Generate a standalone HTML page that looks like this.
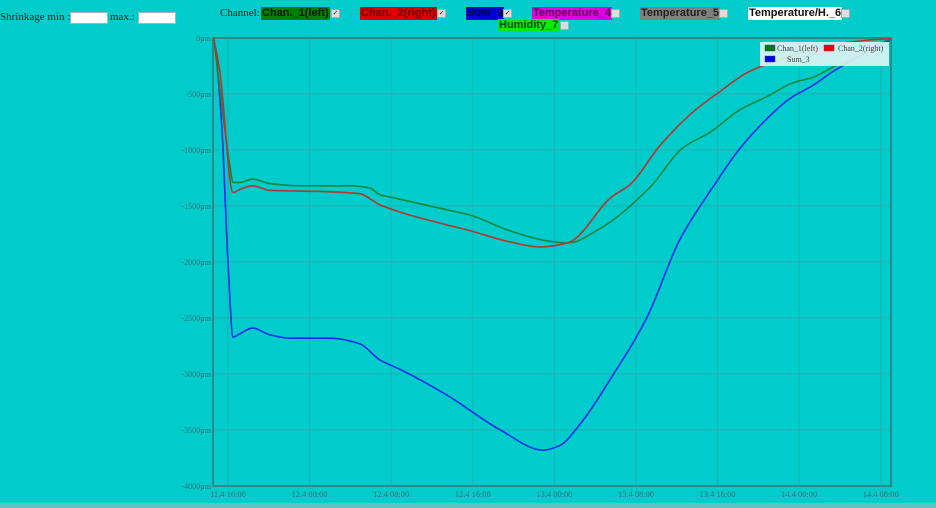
<!DOCTYPE html>
<html><head><meta charset="utf-8"><style>
body{margin:0;width:936px;height:508px;background:#00cccc;position:relative;overflow:hidden;font-family:"Liberation Serif",serif}
.t{position:absolute;font-size:11px;color:#222;white-space:nowrap}
.ch{position:absolute;font-family:"Liberation Sans",sans-serif;font-weight:bold;font-size:11px;height:13px;line-height:13px;padding:0 1px;white-space:nowrap}
.cb{position:absolute;width:7px;height:7px;background:#ddd;border:1px solid #aaa;font-size:7px;line-height:7px;text-align:center;color:#222}
input{position:absolute;height:10px;border:1px solid #9bb;padding:0;background:#fff}
</style></head><body>
<div class="t" style="left:0;top:11px">Shrinkage min :</div>
<input style="left:70px;top:12px;width:36px">
<div class="t" style="left:110px;top:11px">max.:</div>
<input style="left:138px;top:12px;width:36px">
<div class="t" style="left:220px;top:7px">Channel:</div>
<div class="ch" style="left:261px;top:7px;background:#008000;color:#111">Chan._1(left)</div><div class="cb" style="left:331px;top:9px">✓</div>
<div class="ch" style="left:360px;top:7px;background:#e00000;color:#600">Chan._2(right)</div><div class="cb" style="left:437px;top:9px">✓</div>
<div class="ch" style="left:466px;top:7px;background:#0000dd;color:#003">Sum_3</div><div class="cb" style="left:503px;top:9px">✓</div>
<div class="ch" style="left:532px;top:7px;background:#e000e0;color:#505">Temperature_4</div><div class="cb" style="left:611px;top:9px"></div>
<div class="ch" style="left:640px;top:7px;background:#808080;color:#222">Temperature_5</div><div class="cb" style="left:719px;top:9px"></div>
<div class="ch" style="left:748px;top:7px;background:#fff;color:#111">Temperature/H._6</div><div class="cb" style="left:841px;top:9px"></div>
<div class="ch" style="left:498px;top:19px;background:#00ee00;color:#040">Humidity_7</div><div class="cb" style="left:560px;top:21px"></div>
<div style="position:absolute;left:0;top:503px;width:936px;height:5px;background:#5cc2c2"></div>
<svg id="chart" width="936" height="508" style="position:absolute;left:0;top:0"></svg>
<script>
const yTicks=[0,-500,-1000,-1500,-2000,-2500,-3000,-3500,-4000];
const xTickHours=[0,8,16,24,32,40,48,56,64];
const xTickLabels=["11.4 16:00","12.4 00:00","12.4 08:00","12.4 16:00","13.4 00:00","13.4 08:00","13.4 16:00","14.4 00:00","14.4 08:00"];
const chan1T=[-1.4,-1.0,0.2,0.5,1.2,2.4,4.1,7.1,12.0,13.9,14.9,15.9,21.5,23.7,27.6,31.4,33.3,36.5,41.4,44.6,47.3,50.2,52.8,55.4,57.4,59.3,62.0,64.4,65.0];
const chan1V=[0,-300,-1150,-1290,-1290,-1260,-1300,-1320,-1320,-1340,-1400,-1420,-1535,-1580,-1720,-1813,-1830,-1700,-1330,-980,-840,-640,-525,-400,-350,-260,-150,-30,-10];
const chan2T=[-1.4,-0.8,0.5,1.2,2.4,4.1,9.0,12.9,14.9,21.5,23.7,27.6,30.6,33.3,37.6,39.4,42.4,45.6,48.2,50.9,53.4,59.3,62.6,65.0];
const chan2V=[0,-300,-1380,-1350,-1320,-1360,-1370,-1390,-1490,-1670,-1720,-1820,-1866,-1830,-1420,-1310,-955,-660,-480,-310,-215,-60,-20,-5];
const sumT=[-1.2,-0.6,0,0.5,1.0,2.4,4.1,6.1,10.0,12.9,14.9,16.9,21.5,26.7,30.9,32.5,34.5,37.6,41.1,44.3,47.7,49.9,52.2,55.1,57.4,59.3,60.7,62.9,64.9];
const sumV=[-100,-800,-2000,-2670,-2650,-2590,-2650,-2680,-2680,-2730,-2875,-2960,-3190,-3500,-3680,-3640,-3450,-3030,-2490,-1800,-1310,-1020,-780,-540,-420,-300,-225,-110,-20];
const L=213,R=891,T=38,B=486;
const X=h=>228+h*10.2;
const Y=v=>T+(-v)/4000*(B-T);
const svg=document.getElementById('chart');
const NS='http://www.w3.org/2000/svg';
function mk(tag,attrs,parent){const e=document.createElementNS(NS,tag);for(const k in attrs)e.setAttribute(k,attrs[k]);(parent||svg).appendChild(e);return e;}
yTicks.forEach(v=>{
  const g=mk('line',{x1:L,x2:R,y1:Y(v),y2:Y(v),stroke:'#1fb0b0','stroke-width':1});
  
  
  const t=mk('text',{x:L-2,y:Y(v)+3,'text-anchor':'end','font-size':8,fill:'#2f6f6f','font-family':'Liberation Serif, serif'});
  t.textContent=v+'µm';
  
  
});
xTickHours.forEach((h,i)=>{
  const g=mk('line',{x1:X(h),x2:X(h),y1:T,y2:B,stroke:'#1fb0b0','stroke-width':1});
  
  
  const t=mk('text',{x:X(h),y:B+11,'text-anchor':'middle','font-size':8,fill:'#2f6f6f','font-family':'Liberation Serif, serif','textLength':36,'lengthAdjust':'spacingAndGlyphs'});
  t.textContent=xTickLabels[i];
  
  
});
const fr=mk('rect',{x:L,y:T,width:R-L,height:B-T,fill:'none',stroke:'#2a8a8a','stroke-width':2});


function monotonePath(pts){
  const n=pts.length,dx=[],s=[],m=[];
  for(let i=0;i<n-1;i++){dx[i]=pts[i+1][0]-pts[i][0];s[i]=(pts[i+1][1]-pts[i][1])/dx[i];}
  m[0]=s[0];m[n-1]=s[n-2];
  for(let i=1;i<n-1;i++){
    if(s[i-1]*s[i]<=0)m[i]=0;
    else{const w1=2*dx[i]+dx[i-1],w2=dx[i]+2*dx[i-1];m[i]=(w1+w2)/(w1/s[i-1]+w2/s[i]);}
  }
  let d='M'+pts[0][0]+','+pts[0][1];
  for(let i=0;i<n-1;i++){
    const h=dx[i]/3;
    d+=' C'+(pts[i][0]+h)+','+(pts[i][1]+m[i]*h)+' '+(pts[i+1][0]-h)+','+(pts[i+1][1]-m[i+1]*h)+' '+pts[i+1][0]+','+pts[i+1][1];
  }
  return d;
}
function series(ts,vs,color,name){
  const pts=ts.map((t,i)=>[X(t),Y(vs[i])]);
  const p=mk('path',{d:monotonePath(pts),fill:'none',stroke:color,'stroke-width':1.6,'stroke-linejoin':'round'});
  
  
}
series(sumT,sumV,'#0a2ee8','sum3-line');
series(chan1T,chan1V,'#13883a','chan1-line');
series(chan2T,chan2V,'#b8352d','chan2-line');
const lg=mk('g',{});


mk('rect',{x:760,y:42,width:129,height:24,fill:'#e0f4f4','fill-opacity':0.9},lg);
[[765,45,'#007a10','Chan_1(left)',777],[824,45,'#ee0000','Chan_2(right)',838],[765,56,'#0000ee','Sum_3',787]].forEach(d=>{
  const r=mk('rect',{x:d[0],y:d[1],width:10,height:6,fill:d[2],stroke:'#555','stroke-width':0.5},lg);
  
  
  const t=mk('text',{x:d[4],y:d[1]+6,'font-size':8,fill:'#444','font-family':'Liberation Serif, serif'},lg);
  t.textContent=d[3];
  
  
});
</script>
</body></html>
